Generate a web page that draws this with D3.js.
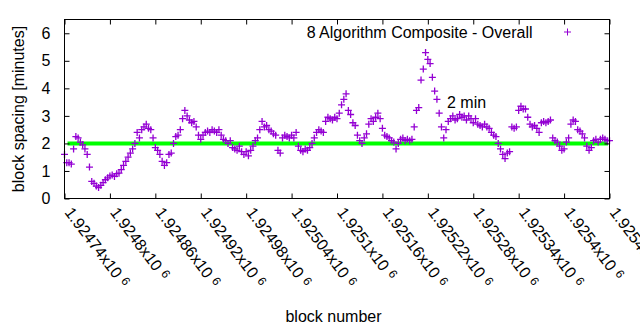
<!DOCTYPE html>
<html>
<head>
<meta charset="utf-8">
<script src="https://cdn.jsdelivr.net/npm/d3@7"></script>
<style>
  html, body { margin: 0; padding: 0; background: #fff; }
  svg { display: block; }
  text { font-family: "Liberation Sans", Arial, sans-serif; fill: #000; }
</style>
</head>
<body>
<svg id="chart" width="640" height="330"></svg>
<script>
// ---- data ----
const blockStart = 1924740;
const blockStep = 3;
const spacing = [
  1.6,1.3,1.3,1.25,1.8,2.25,2.2,2.05,1.95,1.8,
  1.6,1.14,0.62,0.55,0.45,0.4,0.48,0.58,0.68,0.75,
  0.82,0.85,0.8,0.9,0.92,1.05,1.2,1.35,1.5,1.65,
  1.8,2.0,2.4,2.2,2.5,2.6,2.7,2.55,2.5,2.2,
  1.85,1.75,1.6,1.35,1.2,1.3,1.6,1.65,2.0,2.25,
  2.3,2.5,2.9,3.2,3.0,2.85,2.75,2.8,2.6,2.3,
  2.15,2.3,2.4,2.45,2.4,2.5,2.45,2.4,2.5,2.3,
  2.15,2.1,2.0,2.1,1.85,1.8,1.75,1.9,1.7,1.6,
  1.7,1.55,1.75,1.9,2.1,2.2,2.5,2.8,2.6,2.65,
  2.5,2.45,2.35,2.3,1.75,1.65,2.2,2.3,2.25,2.2,
  2.3,2.2,2.4,1.9,1.75,1.7,1.8,1.75,1.85,2.0,
  2.2,2.4,2.5,2.45,2.4,2.8,2.95,2.9,2.85,2.95,
  2.9,3.1,3.4,3.6,3.8,3.2,3.05,2.75,2.65,2.3,
  2.1,2.0,2.2,2.35,2.7,2.9,2.8,2.95,3.1,2.9,
  2.55,2.3,2.25,2.2,2.1,2.05,1.8,2.0,2.15,2.2,
  2.1,2.15,2.1,2.15,2.6,3.2,3.3,4.3,4.7,5.3,
  5.05,4.9,4.4,3.9,3.6,3.1,2.6,2.2,2.5,2.8,
  2.9,3.0,2.85,2.9,3.05,2.95,3.0,2.85,3.0,2.9,
  2.75,2.9,2.7,2.65,2.6,2.7,2.6,2.55,2.4,2.3,
  2.25,2.0,1.8,1.6,1.45,1.65,1.7,2.6,2.55,2.6,
  3.2,3.35,3.25,3.25,2.95,2.7,2.6,2.65,2.55,2.4,
  2.75,2.8,2.75,2.8,2.85,2.2,2.1,2.05,1.9,1.75,
  1.8,2.05,2.2,2.7,2.85,2.8,2.5,2.45,2.35,2.2,
  1.9,1.75,1.85,2.1,2.15,2.05,2.15,2.2,2.15,2.1,2.1
];
const targetLine = [[1924744, 2], [1925458, 2]];
const yTicks = [0, 1, 2, 3, 4, 5, 6];
const xTicks = [1924740, 1924800, 1924860, 1924920, 1924980, 1925040, 1925100,
                1925160, 1925220, 1925280, 1925340, 1925400, 1925460];
const xTickLabels = ["1.92474", "1.9248", "1.92486", "1.92492", "1.92498", "1.92504",
                     "1.9251", "1.92516", "1.92522", "1.92528", "1.92534", "1.9254", "1.92546"];
const seriesName = "8 Algorithm Composite - Overall";
const lineLabel = "2 min";
const xTitle = "block number";
const yTitle = "block spacing [minutes]";

// ---- layout ----
const L = 64.5, R = 609.5, T = 19.5, B = 198.5;
const purple = "#9400d3", green = "#00ff00";
const svg = d3.select("#chart");

const x = d3.scaleLinear().domain([1924740, 1925460]).range([L, R]);
const y = d3.scaleLinear().domain([0, 6.5]).range([B, T]);

const points = spacing.map((v, i) => ({ block: blockStart + i * blockStep, v }));

// target line
svg.append("path")
  .datum(targetLine)
  .attr("fill", "none")
  .attr("stroke", green)
  .attr("stroke-width", 4)
  .attr("d", d3.line().x(d => x(d[0])).y(d => y(d[1])));

// points
const plus = "M-3.5,0H3.5M0,-3.5V3.5";
svg.append("g").selectAll("path")
  .data(points)
  .join("path")
  .attr("transform", d => `translate(${x(d.block)},${y(d.v)})`)
  .attr("d", plus)
  .attr("stroke", purple)
  .attr("stroke-width", 1.3)
  .attr("fill", "none");

// axes (inward ticks)
const gx = svg.append("g").attr("transform", `translate(0,${B})`)
  .call(d3.axisBottom(x).tickValues(xTicks).tickSize(-5).tickPadding(0)
    .tickFormat((d, i) => xTickLabels[i] + "x10"));
gx.select(".domain").remove();
gx.selectAll("text")
  .attr("x", 0).attr("y", 0).attr("dy", null)
  .attr("text-anchor", "start")
  .attr("font-size", 16)
  .attr("font-family", null)
  .attr("transform", "translate(-1,14) rotate(53)")
  .append("tspan").attr("dx", 5).attr("dy", -4).attr("font-size", 12).text("6");

svg.append("g").attr("transform", `translate(0,${T})`)
  .call(d3.axisTop(x).tickValues(xTicks).tickSize(-5).tickFormat(""))
  .select(".domain").remove();

const gy = svg.append("g").attr("transform", `translate(${L},0)`)
  .call(d3.axisLeft(y).tickValues(yTicks).tickSize(-5).tickPadding(14).tickFormat(d3.format("d")));
gy.select(".domain").remove();
gy.selectAll("text").attr("font-size", 16).attr("font-family", null);

svg.append("g").attr("transform", `translate(${R},0)`)
  .call(d3.axisRight(y).tickValues(yTicks).tickSize(-5).tickFormat(""))
  .select(".domain").remove();

svg.selectAll(".tick line").attr("stroke", "#000");

// frame
svg.append("rect")
  .attr("x", L).attr("y", T).attr("width", R - L).attr("height", B - T)
  .attr("fill", "none").attr("stroke", "#000").attr("stroke-width", 1);

// titles
svg.append("text")
  .attr("x", 333.5).attr("y", 322)
  .attr("text-anchor", "middle").attr("font-size", 16)
  .text(xTitle);
svg.append("text")
  .attr("transform", `translate(24,${(T + B) / 2}) rotate(-90)`)
  .attr("text-anchor", "middle").attr("font-size", 16)
  .text(yTitle);

// legend
svg.append("text")
  .attr("x", 532.5).attr("y", 37.5)
  .attr("text-anchor", "end").attr("font-size", 16)
  .text(seriesName);
svg.append("path")
  .attr("transform", "translate(567.5,32)")
  .attr("d", plus).attr("stroke", purple).attr("fill", "none");

// line label
svg.append("text")
  .attr("x", 447).attr("y", 108)
  .attr("font-size", 16)
  .text(lineLabel);
</script>
</body>
</html>
